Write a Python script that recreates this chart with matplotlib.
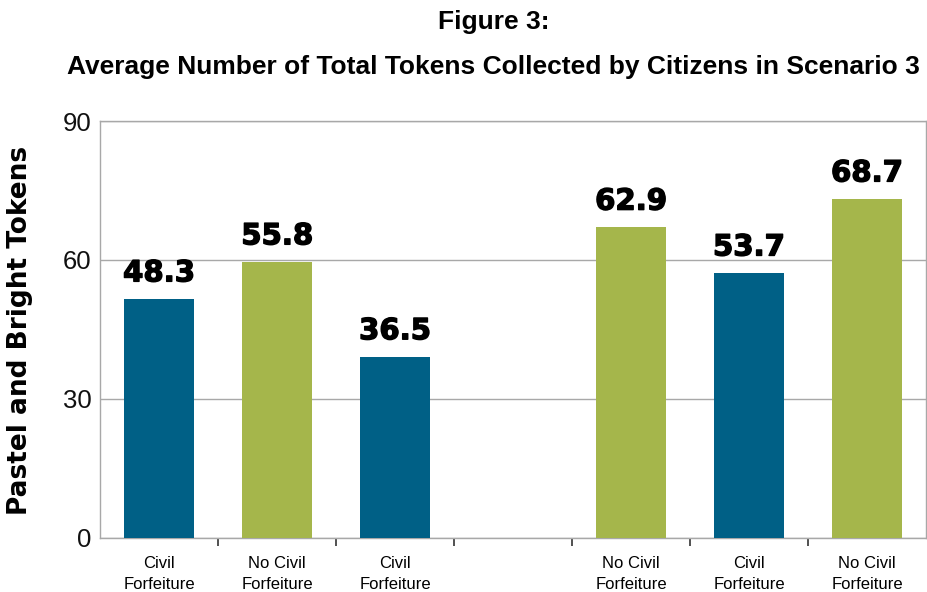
import numpy as np
import matplotlib
matplotlib.use("Agg")
import matplotlib.pyplot as plt
import matplotlib.patheffects as pe

# ── Data (slot 4 is an empty gap) ─────────────────────────────────────────────
categories = ["Civil\nForfeiture", "No Civil\nForfeiture", "Civil\nForfeiture", "",
              "No Civil\nForfeiture", "Civil\nForfeiture", "No Civil\nForfeiture"]
bar_heights = [51.5, 59.5, 39.0, np.nan, 67.0, 57.1, 73.1]
value_labels = ["48.3", "55.8", "36.5", "", "62.9", "53.7", "68.7"]
is_civil = [True, False, True, None, False, True, False]

BLUE, GREEN = "#006086", "#A5B64B"

plt.rcParams["font.family"] = ["Liberation Sans", "DejaVu Sans"]

fig = plt.figure(figsize=(9.28, 5.92), dpi=100)
ax = fig.add_axes([0.1078, 0.092, 0.89, 0.7036])

x = np.arange(len(categories))
colors = [BLUE if c else GREEN for c in is_civil]
h = np.nan_to_num(np.array(bar_heights, dtype=float))
ax.bar(x, h, width=0.59, color=colors, zorder=3)

for xi, hi, lab in zip(x, h, value_labels):
    if not lab:
        continue
    ax.annotate(lab, (xi, hi), xytext=(0, 8.5), textcoords="offset points",
                ha="center", va="bottom", fontsize=21, fontweight="bold", color="black",
                family="DejaVu Sans",
                path_effects=[pe.withStroke(linewidth=1.0, foreground="black")], zorder=4)

ax.set_xlim(-0.5, len(categories) - 0.5)
ax.set_ylim(0, 90)
ax.set_yticks([0, 30, 60, 90])
ax.yaxis.grid(True, color="#a8a8a8", lw=1, zorder=0)
ax.tick_params(axis="y", length=0, pad=6, labelsize=18.5, labelcolor="#111111")

ax.set_xticks(x)
ax.set_xticklabels(categories, fontsize=12, linespacing=1.55)
ax.tick_params(axis="x", which="major", length=0, pad=13)
ax.set_xticks(np.arange(0.5, len(categories) - 1, 1.0), minor=True)
ax.tick_params(axis="x", which="minor", length=6, width=1.2, color="#333333", direction="out")

for s in ax.spines.values():
    s.set_color("#a8a8a8")
    s.set_linewidth(1)

ax.set_ylabel("Pastel and Bright Tokens", fontsize=19, fontweight="bold",
              family="DejaVu Sans", va="center")
ax.yaxis.set_label_coords(-0.0975, 0.498)

fig.text(0.532, 0.963, "Figure 3:", ha="center", va="center", fontsize=19, fontweight="bold")
fig.text(0.532, 0.887, "Average Number of Total Tokens Collected by Citizens in Scenario 3",
         ha="center", va="center", fontsize=19, fontweight="bold")

fig.savefig("out.png", dpi=100)
